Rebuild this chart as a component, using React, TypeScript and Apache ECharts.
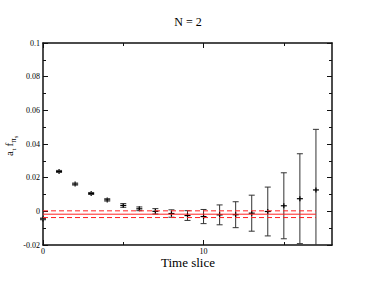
import React, { useEffect, useRef } from "react";
import * as echarts from "echarts";

const times = [0, 1, 2, 3, 4, 5, 6, 7, 8, 9, 10, 11, 12, 13, 14, 15, 16, 17];
const values = [-0.0045, 0.0237, 0.0162, 0.0106, 0.0068, 0.0035, 0.0015, 0.0, -0.0013, -0.0025, -0.0031, -0.0021, -0.002, -0.0011, -0.0001, 0.0033, 0.0075, 0.0127];
const errors = [0.0005, 0.0006, 0.0006, 0.0006, 0.0007, 0.0011, 0.0011, 0.0016, 0.0022, 0.0029, 0.0042, 0.0059, 0.0077, 0.0107, 0.0145, 0.0196, 0.0267, 0.036];
const fitRange = [0, 17];
const fitCenter = -0.0017;
const fitError = 0.002;
const xMajorTicks = [0, 10];
const xMinorTicks = [5, 15];

const FONT = "'Liberation Serif', 'DejaVu Serif', serif";

export default function App() {
  const ref = useRef<HTMLDivElement>(null);
  useEffect(() => {
    document.body.style.margin = "0";
    const chart = echarts.init(ref.current!, null, { renderer: "svg" });
    const errData = times.map((t, i) => [t, values[i], errors[i]]);
    const axisLine = { show: true, onZero: false, lineStyle: { color: "#111", width: 1.5 } };
    const tickStyle = { color: "#111", width: 1 };
    const baseX = { type: "value", min: 0, max: 18, splitLine: { show: false } };
    const baseY = { type: "value", min: -0.02, max: 0.1, interval: 0.02, splitLine: { show: false } };
    const option: any = {
      animation: false,
      grid: { left: 43, right: 42, top: 43, bottom: 44, containLabel: false, outerBoundsMode: "none" },
      xAxis: [
        {
          ...baseX, position: "bottom", axisLine,
          axisTick: { inside: true, length: 5, lineStyle: tickStyle, customValues: xMajorTicks },
          axisLabel: { customValues: xMajorTicks, fontSize: 8, margin: 2, color: "#000", fontFamily: FONT },
        },
        {
          ...baseX, position: "bottom", axisLine: { show: false, onZero: false },
          axisTick: { inside: true, length: 3, lineStyle: tickStyle, customValues: xMinorTicks },
          axisLabel: { show: false },
        },
        {
          ...baseX, position: "top", axisLine,
          axisTick: { inside: true, length: 5, lineStyle: tickStyle, customValues: xMajorTicks },
          axisLabel: { show: false },
        },
        {
          ...baseX, position: "top", axisLine: { show: false, onZero: false },
          axisTick: { inside: true, length: 3, lineStyle: tickStyle, customValues: xMinorTicks },
          axisLabel: { show: false },
        },
      ],
      yAxis: [
        {
          ...baseY, position: "left", axisLine,
          axisTick: { inside: true, length: 5, lineStyle: tickStyle },
          minorTick: { show: true, splitNumber: 2, length: 3, lineStyle: tickStyle },
          minorSplitLine: { show: false },
          axisLabel: { fontSize: 8, margin: 3, color: "#000", fontFamily: FONT, align: "right", verticalAlign: "middle" },
        },
        {
          ...baseY, position: "right", axisLine,
          axisTick: { inside: true, length: 5, lineStyle: tickStyle },
          minorTick: { show: true, splitNumber: 2, length: 3, lineStyle: tickStyle },
          minorSplitLine: { show: false },
          axisLabel: { show: false },
        },
      ],
      graphic: [
        {
          type: "text", x: 188, y: 22,
          style: { text: "N = 2", font: `12px ${FONT}`, fill: "#000", align: "center", verticalAlign: "middle" },
        },
        {
          type: "text", x: 188, y: 262,
          style: { text: "Time slice", font: `13px ${FONT}`, fill: "#000", align: "center", verticalAlign: "middle" },
        },
        {
          type: "group", x: 14, y: 156, rotation: Math.PI / 2,
          children: [
            { type: "text", x: 0, y: 0, style: { text: "a", font: `11px ${FONT}`, fill: "#000", align: "left", verticalAlign: "bottom" } },
            { type: "text", x: 5.5, y: 3, style: { text: "t", font: `7px ${FONT}`, fill: "#000", align: "left", verticalAlign: "bottom" } },
            { type: "text", x: 9.5, y: 0, style: { text: "f", font: `11px ${FONT}`, fill: "#000", align: "left", verticalAlign: "bottom" } },
            { type: "text", x: 13.5, y: 3, style: { text: "π", font: `8px ${FONT}`, fill: "#000", align: "left", verticalAlign: "bottom" } },
            { type: "text", x: 18, y: 5, style: { text: "s", font: `6px ${FONT}`, fill: "#000", align: "left", verticalAlign: "bottom" } },
          ],
        },
      ],
      series: [
        {
          type: "line", xAxisIndex: 0, yAxisIndex: 0, symbol: "none", silent: true,
          data: fitRange.map((x) => [x, fitCenter]),
          lineStyle: { color: "#ff2020", width: 1 },
        },
        {
          type: "line", xAxisIndex: 0, yAxisIndex: 0, symbol: "none", silent: true,
          data: fitRange.map((x) => [x, fitCenter + fitError]),
          lineStyle: { color: "#ff2020", width: 1, type: [5, 3] },
        },
        {
          type: "line", xAxisIndex: 0, yAxisIndex: 0, symbol: "none", silent: true,
          data: fitRange.map((x) => [x, fitCenter - fitError]),
          lineStyle: { color: "#ff2020", width: 1, type: [5, 3] },
        },
        {
          type: "custom", xAxisIndex: 0, yAxisIndex: 0, silent: true,
          data: errData,
          renderItem: (params: any, api: any) => {
            const x = api.value(0);
            const y = api.value(1);
            const e = api.value(2);
            const c = api.coord([x, y]);
            const hi = api.coord([x, y + e]);
            const lo = api.coord([x, y - e]);
            const cs = params.coordSys;
            const top = cs.y;
            const bottom = cs.y + cs.height;
            const yHi = Math.max(hi[1], top);
            const yLo = Math.min(lo[1], bottom);
            const stroke = { stroke: "#333", lineWidth: 1 };
            const children: any[] = [
              { type: "line", shape: { x1: c[0], y1: yHi, x2: c[0], y2: yLo }, style: stroke },
              { type: "line", shape: { x1: c[0] - 3, y1: c[1], x2: c[0] + 3, y2: c[1] }, style: { stroke: "#000", lineWidth: 1.2 } },
              { type: "line", shape: { x1: c[0], y1: c[1] - 2.5, x2: c[0], y2: c[1] + 2.5 }, style: { stroke: "#000", lineWidth: 1.2 } },
            ];
            if (hi[1] >= top) children.push({ type: "line", shape: { x1: c[0] - 3, y1: hi[1], x2: c[0] + 3, y2: hi[1] }, style: stroke });
            if (lo[1] <= bottom) children.push({ type: "line", shape: { x1: c[0] - 3, y1: lo[1], x2: c[0] + 3, y2: lo[1] }, style: stroke });
            return { type: "group", children };
          },
        },
      ],
    };
    chart.setOption(option);
    return () => chart.dispose();
  }, []);
  return <div ref={ref} style={{ width: 374, height: 289 }} />;
}
